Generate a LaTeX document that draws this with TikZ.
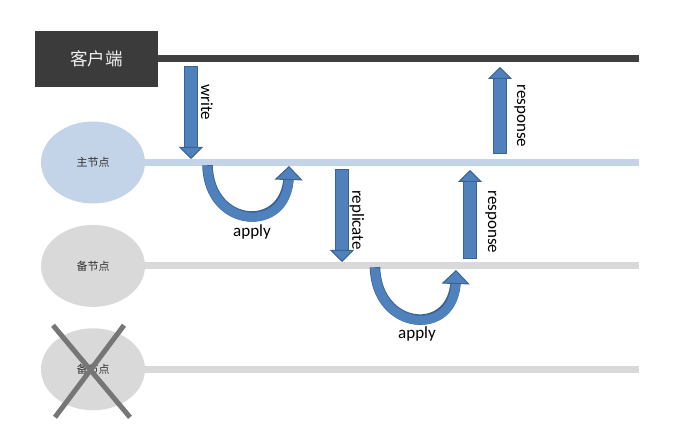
\documentclass[tikz,border=0pt]{standalone}
\usepackage{fontspec}
\setmainfont{Carlito}
\newfontfamily\cjk{Noto Sans CJK SC}
\usepackage{xcolor}
\definecolor{CLIENTCOLOR}{HTML}{3B3B3B}
\definecolor{CLIENTLINE}{HTML}{404040}
\definecolor{PRIMARYCOLOR}{HTML}{C3D3E8}
\definecolor{STANDBYCOLOR}{HTML}{D9D9D9}
\definecolor{SERVERTEXT}{HTML}{303030}
\definecolor{FLOWCOLOR}{HTML}{4F81BD}
\definecolor{FLOWBORDER}{HTML}{3A6391}
\definecolor{CROSSCOLOR}{HTML}{767676}
\usepackage{tikz}
\usetikzlibrary{shapes,arrows.meta,positioning,calc}
\tikzset{
  client-style/.style = {
    rectangle, fill=CLIENTCOLOR, text=white!94!black,
    font=\cjk\fontsize{17.5}{20}\selectfont,
    minimum width=123pt, minimum height=56pt, inner sep=0pt
  },
  server-style/.style = {
    ellipse, fill=#1, text=SERVERTEXT,
    font=\cjk\fontsize{11}{13}\selectfont,
    minimum width=104pt, minimum height=82pt, inner sep=0pt
  },
  lane-style/.style = {
    draw=#1, line width=7pt
  },
  flow-style/.style = {
    draw=FLOWCOLOR, line width=12pt,
    preaction={-, draw=FLOWBORDER, line width=13.5pt, shorten >=10pt, shorten <=-0.75pt},
    -{Triangle[width=24pt, length=12pt, color=FLOWBORDER, fill=FLOWCOLOR, line width=1pt]}
  },
  apply-style/.style = {
    draw=FLOWCOLOR, line width=9pt,
    preaction={-, draw=FLOWBORDER, line width=10.5pt, shorten >=10pt, shorten <=-0.75pt},
    -{Triangle[width=28pt, length=14pt, color=FLOWBORDER, fill=FLOWCOLOR, line width=1pt]}
  },
  label-style/.style = {
    font=\fontsize{17}{20}\selectfont, inner sep=0pt
  },
  flow-label-style/.style = {
    label-style, rotate=-90
  },
  cross-style/.style = {
    draw=CROSSCOLOR, line width=5pt
  }
}
\newlength\serverDistance
\setlength\serverDistance{21pt}
\def\createServer name:#1 display:#2 color:#3 place:#4;{
  \node [server-style=#3, #4] (#1) {#2};
}
\def\createLane from:#1 color:#2;{
  \draw [lane-style=#2] (#1.east) -- (#1.east -| lane-end);
}
\def\createFlow name:#1 from:#2 to:#3 display:#4 at:#5;{
  \coordinate (#1-tail) at #2;
  \coordinate (#1-tip) at #3;
  \draw [flow-style] (#1-tail) -- (#1-tip);
  \node [flow-label-style] (#1) at #5 {#4};
}
\def\createApply name:#1 from:#2 to:#3 at:#4;{
  \coordinate (#1-start) at #2;
  \coordinate (#1-tip) at #3;
  \draw [apply-style] (#1-start) .. controls +(1.5,63) and +(-2,68) .. (#1-tip);
  \node [label-style] (#1) at #4 {apply};
}

\begin{document}
\begin{tikzpicture}[x=1pt, y=-1pt]
  \useasboundingbox (0,0) rectangle (680,427);
  \coordinate (lane-end) at (639,0);

  \node [client-style] (client) at (96.5,59) {客户端};
  \createServer name:primary display:主节点 color:PRIMARYCOLOR place:{at={(93,162.5)}};
  \createServer name:standby display:备节点 color:STANDBYCOLOR place:{below=\serverDistance of primary};
  \createServer name:failed display:备节点 color:STANDBYCOLOR place:{below=\serverDistance of standby};

  \createLane from:client color:CLIENTLINE;
  \createLane from:primary color:PRIMARYCOLOR;
  \createLane from:standby color:STANDBYCOLOR;
  \createLane from:failed color:STANDBYCOLOR;

  % client -> primary -> standby and back
  \createFlow name:write from:(191,67) to:(191,159) display:write at:(207,102);
  \createApply name:apply-primary from:(207.5,166) to:(289,166) at:(252,232);
  \createFlow name:replicate from:(342,170) to:(342,262) display:replicate at:(357,220);
  \createApply name:apply-standby from:(375,268) to:(456,270) at:(417,334);
  \createFlow name:response-standby from:(470,258) to:(470,170) display:response at:(491,222);
  \createFlow name:response-primary from:(500,153) to:(500,67) display:response at:(520,116);

  % the failed standby
  \draw [cross-style] ($(failed.center)+(-40,-44)$) -- ($(failed.center)+(37,48)$);
  \draw [cross-style] ($(failed.center)+(31,-44)$) -- ($(failed.center)+(-38,48)$);
\end{tikzpicture}
\end{document}
